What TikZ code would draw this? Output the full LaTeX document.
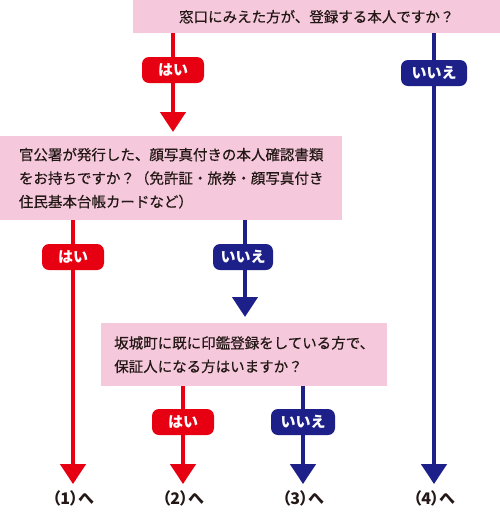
\documentclass[tikz,border=0pt]{standalone}
\usepackage{fontspec}
\setmainfont{Noto Sans CJK JP}
\newfontfamily\medfont{Noto Sans CJK JP}[UprightFeatures={FakeBold=0.4}]
\newfontfamily\paltfont{Noto Sans CJK JP}[RawFeature=+palt]
\usetikzlibrary{arrows.meta}
\definecolor{pinkbox}{HTML}{F5C8DC}
\definecolor{jred}{HTML}{E60012}
\definecolor{jblue}{HTML}{1D2088}
\definecolor{txt}{HTML}{231815}
\begin{document}
\begin{tikzpicture}[x=1pt,y=-1pt,
  qbox/.style={fill=pinkbox, draw=none, anchor=north west, inner sep=0pt, text=txt, align=left,
    font=\medfont\fontsize{14.5}{23.5}\selectfont},
  ra/.style={draw=jred, line width=4.5pt, -{Triangle[width=25pt,length=20pt]}},
  ba/.style={draw=jblue, line width=4.5pt, -{Triangle[width=25pt,length=20pt]}},
  pill/.style={rounded corners=7pt, minimum width=62pt, minimum height=26pt, inner sep=0pt, text=white,
    font=\fontsize{15}{15}\bfseries\selectfont},
  pillr/.style={pill, fill=jred},
  pillb/.style={pill, fill=jblue},
  res/.style={text=txt, inner sep=0pt, font=\paltfont\fontsize{16}{16}\bfseries\selectfont}]
\useasboundingbox (0,0) rectangle (500,515);
\node[qbox, minimum width=367pt, minimum height=33pt] (q1) at (133,0) {窓口にみえた方が、登録する本人ですか？};
\node[qbox, minimum width=342pt, minimum height=84pt] (q2) at (0,136) {官公署が発行した、顔写真付きの本人確認書類\\をお持ちですか？（免許証・旅券・顔写真付き\\住民基本台帳カードなど）};
\node[qbox, minimum width=286pt, minimum height=63pt] (q3) at (101,323) {坂城町に既に印鑑登録をしている方で、\\保証人になる方はいますか？};
\node[res] (r1) at (73,498) {（1）へ};
\node[res] (r2) at (183,498) {（2）へ};
\node[res] (r3) at (303,498) {（3）へ};
\node[res] (r4) at (434,498) {（4）へ};
% arrows
\draw[ra] (q1.south -| 173,0) -- ([yshift=4pt]q2.north -| 173,0);
\draw[ba] (q1.south -| 434,0) -- ([yshift=6pt]r4.north);
\draw[ra] (q2.south -| 73,0) -- ([yshift=6pt]r1.north);
\draw[ba] (q2.south -| 245,0) -- ([yshift=6pt]q3.north -| 245,0);
\draw[ra] (q3.south -| 183,0) -- ([yshift=6pt]r2.north);
\draw[ba] (q3.south -| 303,0) -- ([yshift=6pt]r3.north);
% pills
\node[pillr] (p1) at (173,70) {はい};
\node[pillb, minimum width=66pt] (p2) at (434,73) {いいえ};
\node[pillr] (p3) at (73,257) {はい};
\node[pillb, minimum width=60pt] (p4) at (243,257) {いいえ};
\node[pillr] (p5) at (183,422) {はい};
\node[pillb, minimum width=64pt] (p6) at (303,422) {いいえ};
\end{tikzpicture}
\end{document}
